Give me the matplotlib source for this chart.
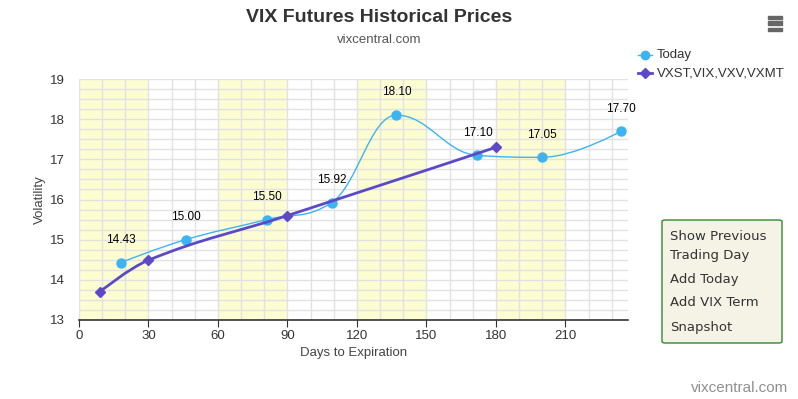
import numpy as np
import matplotlib.pyplot as plt
from matplotlib.path import Path
from matplotlib.patches import PathPatch, FancyBboxPatch, Rectangle

plt.rcParams['font.family'] = ['Liberation Sans', 'DejaVu Sans']

# data
today_days = [18, 46, 81, 109, 137, 172, 200, 234]
today_vals = [14.43, 15.00, 15.50, 15.92, 18.10, 17.10, 17.05, 17.70]
term_days = [9, 30, 90, 180]
term_vals = [13.70, 14.49, 15.60, 17.30]
band_starts = [0, 60, 120, 180]
band_width = 30
xticks = [0, 30, 60, 90, 120, 150, 180, 210]
yticks = [13, 14, 15, 16, 17, 18, 19]

C_TODAY = '#3cb4f2'
C_TERM = '#5b4ac8'
C_BAND = '#fdfdd2'
C_GRID = '#e2e2e2'


def spline_path(xs, ys, smoothing=1.5):
    # highcharts-style spline: cubic bezier segments through every point
    n = len(xs)
    denom = smoothing + 1
    lc = [(xs[i], ys[i]) for i in range(n)]
    rc = [(xs[i], ys[i]) for i in range(n)]
    for i in range(1, n - 1):
        x, y = xs[i], ys[i]
        lx, ly = xs[i - 1], ys[i - 1]
        nx, ny = xs[i + 1], ys[i + 1]
        lcx = (smoothing * x + lx) / denom
        lcy = (smoothing * y + ly) / denom
        rcx = (smoothing * x + nx) / denom
        rcy = (smoothing * y + ny) / denom
        if rcx != lcx:
            corr = (rcy - lcy) * (rcx - x) / (rcx - lcx) + y - rcy
            lcy += corr
            rcy += corr
        if lcy > ly and lcy > y:
            lcy = max(ly, y)
            rcy = 2 * y - lcy
        elif lcy < ly and lcy < y:
            lcy = min(ly, y)
            rcy = 2 * y - lcy
        if rcy > ny and rcy > y:
            rcy = max(ny, y)
            lcy = 2 * y - rcy
        elif rcy < ny and rcy < y:
            rcy = min(ny, y)
            lcy = 2 * y - rcy
        lc[i] = (lcx, lcy)
        rc[i] = (rcx, rcy)
    verts = [(xs[0], ys[0])]
    codes = [Path.MOVETO]
    for i in range(1, n):
        verts += [rc[i - 1], lc[i], (xs[i], ys[i])]
        codes += [Path.CURVE4] * 3
    return Path(verts, codes)


fig = plt.figure(figsize=(7.98, 3.99), dpi=100)
ax = fig.add_axes([0.099, 0.198, 0.688, 0.604])

for b in band_starts:
    ax.axvspan(b, b + band_width, color=C_BAND, lw=0, zorder=0)

for x in np.arange(0, 240, 10):
    ax.axvline(x, color=C_GRID, lw=1, zorder=1)
for y in np.arange(13, 19.01, 0.25):
    ax.axhline(y, color=C_GRID, lw=1, zorder=1)

ax.add_patch(PathPatch(spline_path(today_days, today_vals), fill=False,
                       edgecolor=C_TODAY, lw=1, zorder=3))
ax.plot(today_days, today_vals, 'o', color=C_TODAY, ms=6.5, zorder=4)

ax.add_patch(PathPatch(spline_path(term_days, term_vals), fill=False,
                       edgecolor=C_TERM, lw=2, zorder=5))
ax.plot(term_days, term_vals, 'D', color=C_TERM, ms=5, zorder=6)

for x, y in zip(today_days, today_vals):
    ax.annotate(f"{y:.2f}", (x, y), xytext=(0, 12), textcoords='offset points',
                ha='center', va='bottom', fontsize=8.5, color='black', zorder=7)

ax.set_xlim(0, 237)
ax.set_ylim(13, 19)
ax.set_xticks(xticks)
ax.set_yticks(yticks)
ax.tick_params(axis='x', length=5, color='#333333', labelsize=9.5, labelcolor='#333333', pad=2)
ax.tick_params(axis='y', length=0, labelsize=9.5, labelcolor='#333333', pad=10)
for s in ['top', 'right', 'left']:
    ax.spines[s].set_visible(False)
ax.spines['bottom'].set_color('#333333')
ax.spines['bottom'].set_linewidth(1.2)
ax.set_xlabel("Days to Expiration", fontsize=9.5, color='#444444', labelpad=4)
ax.set_ylabel("Volatility", fontsize=9.5, color='#444444', labelpad=3)

fig.text(0.475, 0.955, "VIX Futures Historical Prices", ha='center', va='center',
         fontsize=14, fontweight='bold', color='#333333')
fig.text(0.475, 0.90, "vixcentral.com", ha='center', va='center',
         fontsize=9.5, color='#555555')

# legend
leg_x = 638 / 798
for i, (lbl, col, mk, lw) in enumerate([("Today", C_TODAY, 'o', 1), ("VXST,VIX,VXV,VXMT", C_TERM, 'D', 2)]):
    yy = 1 - (55 + 18 * i) / 399
    fig.add_artist(plt.Line2D([leg_x, leg_x + 14 / 798], [yy, yy], color=col, lw=lw))
    fig.add_artist(plt.Line2D([leg_x + 7 / 798], [yy], color=col, marker=mk,
                              ms=6 if mk == 'o' else 5))
    fig.text(leg_x + 19 / 798, yy, lbl, ha='left', va='center', fontsize=9.5, color='#333333')

# hamburger icon
for yy in [17, 23, 29]:
    fig.add_artist(Rectangle((768 / 798, 1 - (yy + 1.5) / 399), 14 / 798, 3 / 399,
                             color='#666666', transform=fig.transFigure))

# button box
fig.add_artist(FancyBboxPatch((662 / 798, 1 - 343 / 399), 120 / 798, 123 / 399,
                              boxstyle='round,pad=0,rounding_size=0.004',
                              facecolor='#f5f3e6', edgecolor='#2e8b2e', lw=1,
                              transform=fig.transFigure))
for lbl, yy in [("Show Previous", 236), ("Trading Day", 255), ("Add Today", 279),
                ("Add VIX Term", 303), ("Snapshot", 327)]:
    fig.text(670 / 798, 1 - yy / 399, lbl, ha='left', va='center', fontsize=9.5,
             color='#333333', family=['DejaVu Sans'])

fig.text(788 / 798, 1 - 388 / 399, "vixcentral.com", ha='right', va='center',
         fontsize=11, color='#909090')

fig.savefig('out.png', dpi=100)
